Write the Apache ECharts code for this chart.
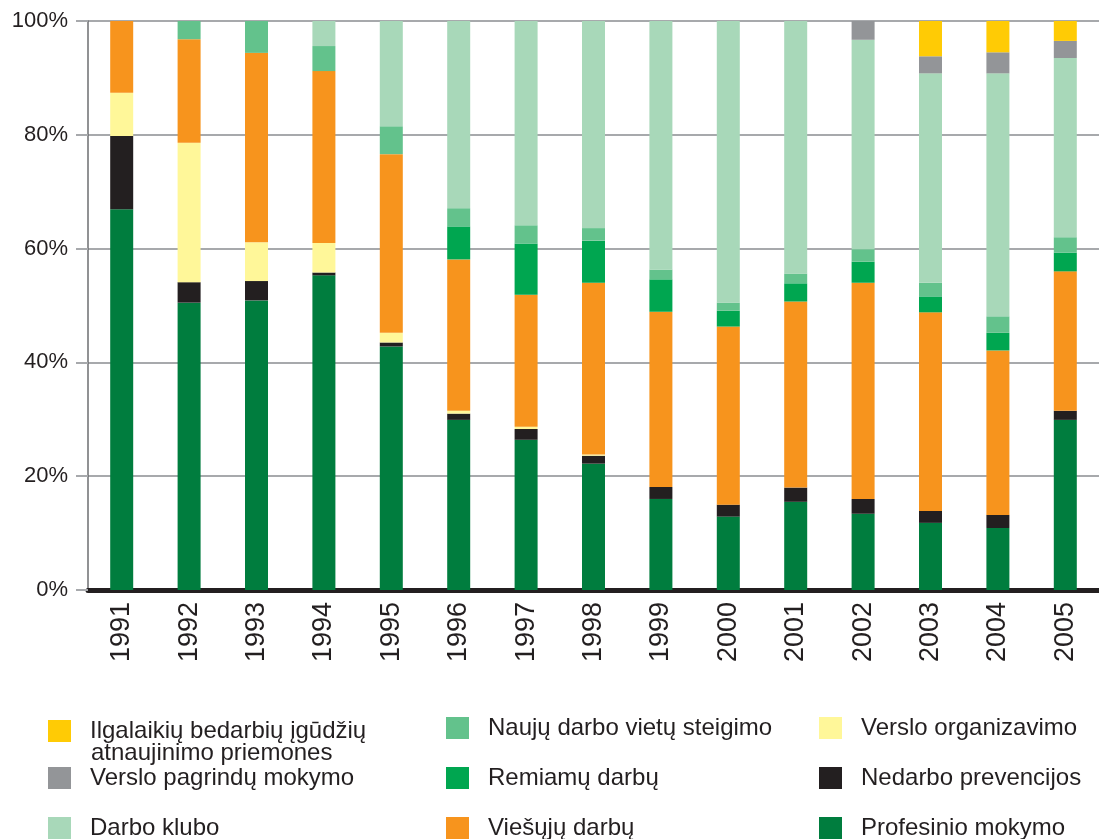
<!DOCTYPE html>
<html>
<head>
<meta charset="utf-8">
<title>Priemonės 1991–2005</title>
<script src="https://cdn.jsdelivr.net/npm/echarts@6/dist/echarts.min.js"></script>
<style>
    html, body { margin: 0; padding: 0; background: #fff; }
    #main { width: 1099px; height: 839px; }
</style>
</head>
<body>
<div id="main"></div>
<script>
// metai
var years = ['1991', '1992', '1993', '1994', '1995', '1996', '1997', '1998', '1999', '2000', '2001', '2002', '2003', '2004', '2005'];

// dalys procentais (nuo apačios į viršų)
var profesinio = [66.9, 50.5, 50.9, 55.3, 42.8, 29.9, 26.4, 22.2, 16.0, 12.9, 15.5, 13.4, 11.8, 10.9, 29.9];
var nedarbo = [12.9, 3.6, 3.4, 0.5, 0.7, 1.1, 1.9, 1.4, 2.1, 2.1, 2.5, 2.6, 2.1, 2.3, 1.6];
var versloOrg = [7.6, 24.5, 6.8, 5.2, 1.7, 0.5, 0.4, 0.2, 0, 0, 0, 0, 0, 0, 0];
var viesuju = [12.6, 18.2, 33.3, 30.2, 31.4, 26.6, 23.2, 30.2, 30.8, 31.3, 32.7, 38.0, 34.9, 28.9, 24.5];
var remiamu = [0, 0, 0, 0, 0, 5.8, 9.0, 7.4, 5.7, 2.8, 3.2, 3.7, 2.8, 3.1, 3.3];
var nauju = [0, 3.2, 5.6, 4.4, 4.9, 3.2, 3.2, 2.2, 1.7, 1.4, 1.7, 2.2, 2.4, 2.9, 2.7];
var klubo = [0, 0, 0, 4.4, 18.5, 32.9, 35.9, 36.4, 43.7, 49.5, 44.4, 36.8, 36.8, 42.7, 31.5];
var pagrindu = [0, 0, 0, 0, 0, 0, 0, 0, 0, 0, 0, 3.3, 3.0, 3.7, 3.0];
var ilgalaikiu = [0, 0, 0, 0, 0, 0, 0, 0, 0, 0, 0, 0, 6.2, 5.5, 3.5];

var yTicks = [0, 20, 40, 60, 80, 100];

var names = {
    ilg: 'Ilgalaikių bedarbių įgūdžių',
    pag: 'Verslo pagrindų mokymo',
    klu: 'Darbo klubo',
    nau: 'Naujų darbo vietų steigimo',
    rem: 'Remiamų darbų',
    vie: 'Viešųjų darbų',
    org: 'Verslo organizavimo',
    ned: 'Nedarbo prevencijos',
    pro: 'Profesinio mokymo'
};

var font = "'Liberation Sans', Arial, sans-serif";
var dark = '#231f20';

function bar(name, data, color) {
    return {
        name: name,
        type: 'bar',
        stack: 'visi',
        barWidth: 23,
        data: data,
        itemStyle: { color: color },
        emphasis: { disabled: true }
    };
}

// po viena legendos elementa, kad eilutes butu lygiuotos
function legend(name, left, top) {
    return {
        data: [name],
        left: left,
        top: top,
        padding: 0,
        itemWidth: 23,
        itemHeight: 22,
        selectedMode: false,
        icon: 'rect',
        textStyle: {
            fontFamily: font,
            fontSize: 24,
            color: dark,
            lineHeight: 22,
            padding: [0, 0, 0, 14]
        }
    };
}

var myChart = echarts.init(document.getElementById('main'));

var option = {
    animation: false,
    grid: { left: 88, top: 21, width: 1023, bottom: 249 },
    xAxis: {
        type: 'category',
        data: years,
        axisLine: { lineStyle: { color: dark, width: 5 } },
        axisTick: { show: false },
        axisLabel: {
            rotate: 90,
            margin: 12,
            fontFamily: font,
            fontSize: 27,
            color: dark
        }
    },
    yAxis: {
        type: 'value',
        min: yTicks[0],
        max: yTicks[yTicks.length - 1],
        interval: yTicks[1] - yTicks[0],
        axisLine: { show: true, lineStyle: { color: '#6d6e71', width: 1.5 } },
        axisTick: { show: true, length: 12, lineStyle: { color: '#a7a9ac', width: 2 } },
        splitLine: { lineStyle: { color: '#a7a9ac', width: 2 } },
        axisLabel: {
            formatter: '{value}%',
            margin: 20,
            fontFamily: font,
            fontSize: 22,
            color: dark
        }
    },
    legend: [
        legend(names.ilg, 48, 719),
        legend(names.pag, 48, 766),
        legend(names.klu, 48, 816),
        legend(names.nau, 446, 716),
        legend(names.rem, 446, 766),
        legend(names.vie, 446, 816),
        legend(names.org, 819, 716),
        legend(names.ned, 819, 766),
        legend(names.pro, 819, 816)
    ],
    graphic: [{
        type: 'text',
        left: 91,
        top: 741,
        style: {
            text: 'atnaujinimo priemones',
            font: '24px ' + font,
            fill: dark
        }
    }],
    series: [
        bar(names.pro, profesinio, '#007d3e'),
        bar(names.ned, nedarbo, '#231f20'),
        bar(names.org, versloOrg, '#fff799'),
        bar(names.vie, viesuju, '#f7941d'),
        bar(names.rem, remiamu, '#00a650'),
        bar(names.nau, nauju, '#63c28c'),
        bar(names.klu, klubo, '#a8d8b9'),
        bar(names.pag, pagrindu, '#939598'),
        bar(names.ilg, ilgalaikiu, '#ffcb05')
    ]
};

myChart.setOption(option);
</script>
</body>
</html>
